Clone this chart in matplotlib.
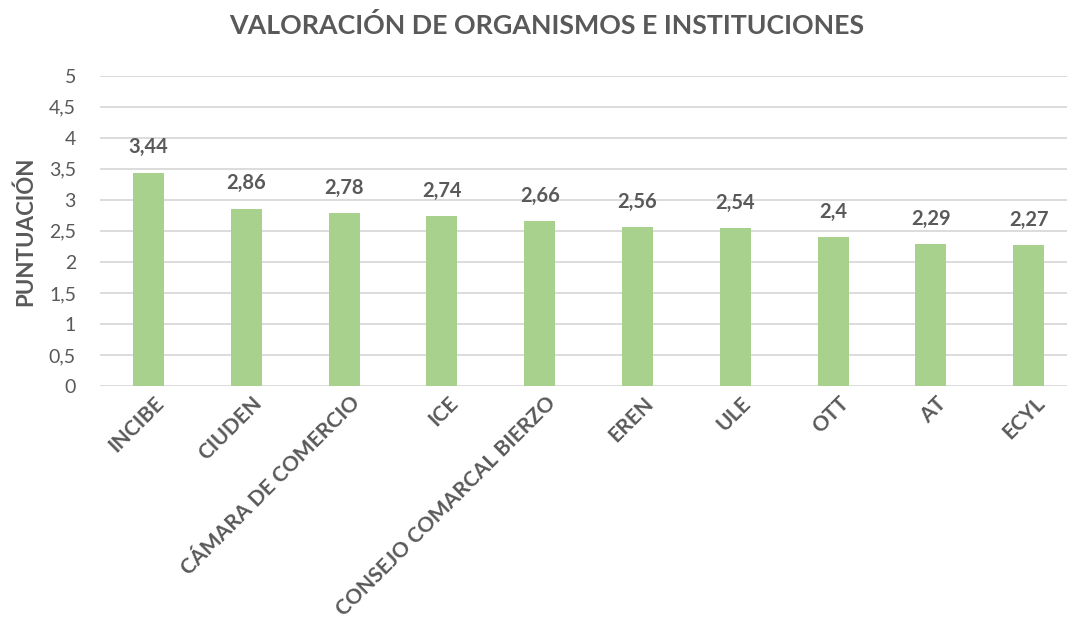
import numpy as np
import matplotlib
matplotlib.use('Agg')
import matplotlib.pyplot as plt
import matplotlib.transforms as mtransforms

categories = ['INCIBE', 'CIUDEN', 'CÁMARA DE COMERCIO', 'ICE', 'CONSEJO COMARCAL BIERZO',
              'EREN', 'ULE', 'OTT', 'AT', 'ECYL']
values = [3.44, 2.86, 2.78, 2.74, 2.66, 2.56, 2.54, 2.4, 2.29, 2.27]
labels = ['3,44', '2,86', '2,78', '2,74', '2,66', '2,56', '2,54', '2,4', '2,29', '2,27']
yticks = [0, 0.5, 1, 1.5, 2, 2.5, 3, 3.5, 4, 4.5, 5]
ytick_labels = ['0', '0,5', '1', '1,5', '2', '2,5', '3', '3,5', '4', '4,5', '5']

plt.rcParams['font.family'] = ['Lato', 'DejaVu Sans']
grey = '#595959'

W, H = 1067, 622
fig = plt.figure(figsize=(W / 100, H / 100), dpi=100)
# plot area runs past the right edge of the picture, like the cropped original
ax = fig.add_axes([99.6 / W, 236 / H, 978 / W, 310.3 / H])

x = np.arange(len(categories))
ax.bar(x, values, width=0.317, color='#A9D18E', zorder=3)
ax.set_xlim(-0.5, len(categories) - 0.5)
ax.set_ylim(0, 5)

ax.set_yticks(yticks)
ax.set_yticklabels(ytick_labels, fontsize=14, color=grey)
ax.tick_params(axis='y', length=0, pad=17)
ax.yaxis.grid(True, color='#D9D9D9', linewidth=1.3, zorder=0)
for s in ax.spines.values():
    s.set_visible(False)

ax.set_xticks(x)
ax.set_xticklabels(categories, rotation=45, ha='right', rotation_mode='anchor',
                   fontsize=15.1, fontweight='bold', color=grey)
ax.tick_params(axis='x', length=0, pad=4)
offset = mtransforms.ScaledTranslation(4 / 72, -1 / 72, fig.dpi_scale_trans)
for lab in ax.get_xticklabels():
    lab.set_transform(lab.get_transform() + offset)

for xi, v, t in zip(x, values, labels):
    ax.annotate(t, (xi, v), xytext=(0, 11), textcoords='offset points',
                ha='center', va='bottom', fontsize=14.5, fontweight='bold', color=grey)

ax.set_ylabel('PUNTUACIÓN', fontsize=16, fontweight='bold', color=grey, labelpad=9)

fig.text(547 / W, 1 - 25 / H, 'VALORACIÓN DE ORGANISMOS E INSTITUCIONES', ha='center',
         va='center', fontsize=19.3, fontweight='bold', color=grey)

fig.savefig('out.png', dpi=100)
